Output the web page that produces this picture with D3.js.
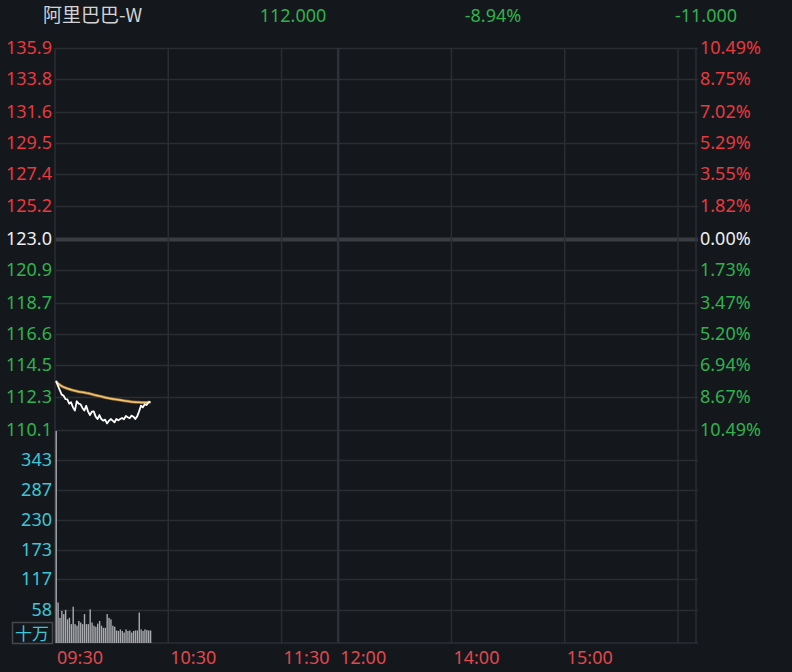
<!DOCTYPE html>
<html>
<head>
<meta charset="utf-8">
<script src="https://cdn.jsdelivr.net/npm/d3@7"></script>
<style>
html,body{margin:0;padding:0;background:#14171c;}
svg{display:block;}
text{font-family:"Noto Sans","Noto Sans CJK SC",sans-serif;}
</style>
</head>
<body>
<svg id="chart" width="792" height="672"></svg>
<script>
// ---- data ----
const title = "阿里巴巴-W";
const headerValues = ["112.000", "-8.94%", "-11.000"];
const prevClose = 123.0;
const priceTicks = [135.9, 133.8, 131.6, 129.5, 127.4, 125.2, 123.0, 120.9, 118.7, 116.6, 114.5, 112.3, 110.1];
const pctLabels = ["10.49%", "8.75%", "7.02%", "5.29%", "3.55%", "1.82%", "0.00%", "1.73%", "3.47%", "5.20%", "6.94%", "8.67%", "10.49%"];
const volTicks = [343, 287, 230, 173, 117, 58];
const volTickLabels = ["343", "287", "230", "173", "117", "58"];
const timeTicks = [0, 60, 120, 150, 210, 270];
const timeLabels = ["09:30", "10:30", "11:30", "12:00", "14:00", "15:00"];
const price = [113.43, 113.09, 112.80, 112.49, 112.42, 112.19, 112.17, 111.88, 111.97, 111.63,
               111.41, 112.04, 111.88, 111.84, 111.59, 111.41, 111.74, 111.34, 111.11, 111.34,
               111.36, 111.00, 110.84, 111.11, 110.84, 110.73, 110.80, 110.55, 110.71, 110.84,
               110.73, 110.62, 110.84, 110.75, 110.84, 110.91, 110.82, 111.05, 110.96, 110.89,
               111.07, 111.00, 110.84, 111.02, 111.36, 111.74, 111.63, 111.84, 111.79, 111.97, 112.00];
const avgPrice = [113.36, 113.25, 113.15, 113.06, 113.00, 112.95, 112.90, 112.86, 112.82, 112.78,
                  112.75, 112.72, 112.69, 112.67, 112.65, 112.63, 112.60, 112.58, 112.55, 112.52,
                  112.48, 112.45, 112.42, 112.39, 112.36, 112.33, 112.30, 112.27, 112.24, 112.22,
                  112.20, 112.18, 112.16, 112.14, 112.12, 112.10, 112.08, 112.06, 112.04, 112.02,
                  112.00, 111.99, 111.98, 111.97, 111.97, 111.96, 111.96, 111.96, 111.96, 111.97, 111.98];
const volume = [398, 73, 44, 57, 51, 59, 41, 44, 32, 65,
                32, 29, 38, 35, 32, 51, 32, 32, 60, 35,
                29, 27, 33, 38, 29, 25, 25, 51, 44, 41,
                29, 27, 20, 19, 22, 19, 16, 22, 19, 20,
                16, 19, 20, 20, 54, 22, 19, 22, 21, 20, 20];

// ---- layout ----
const L = 55, R = 696, TEnd = 678;
const pTop = 48, pBot = 430, vTop = 430, vBot = 641;
const svg = d3.select("#chart");
const gridC = "#2a2e33";
const red = "#e8393c", green = "#2fb24c", cyan = "#3cc6d6";
const fs = 18;

const x = d3.scaleLinear().domain([0, 330]).range([L, TEnd]);
const y = d3.scaleLinear().domain([priceTicks[priceTicks.length - 1], priceTicks[0]]).range([pBot, pTop]);
const yv = d3.scaleLinear().domain([0, 400]).range([vBot, vTop]);

// header
svg.append("text").attr("x", 43).attr("y", 22).attr("fill", "#d2d4d6").attr("font-size", 19)
  .style("font-family", "'Noto Sans CJK SC',sans-serif").text(title);
const hx = [293, 493, 706];
headerValues.forEach((v, i) => svg.append("text").attr("x", hx[i]).attr("y", 22)
  .attr("text-anchor", "middle").attr("fill", green).attr("font-size", fs).text(v));

// horizontal grid (price)
svg.append("g").selectAll("line").data(priceTicks).join("line")
  .attr("x1", L).attr("x2", R + 2).attr("y1", d => Math.round(y(d)) + 0.5).attr("y2", d => Math.round(y(d)) + 0.5)
  .attr("stroke", d => d === prevClose ? "#3a3d41" : gridC)
  .attr("stroke-width", d => d === prevClose ? 4 : 1.5);

// horizontal grid (volume)
svg.append("g").selectAll("line").data(volTicks).join("line")
  .attr("x1", L).attr("x2", R + 2).attr("y1", d => Math.round(yv(d)) + 0.5).attr("y2", d => Math.round(yv(d)) + 0.5)
  .attr("stroke", gridC).attr("stroke-width", 1.5);
svg.append("line").attr("x1", L).attr("x2", R + 2).attr("y1", 643).attr("y2", 643).attr("stroke", gridC).attr("stroke-width", 1.5);

// vertical grid
const vlines = [60, 120, 150, 210, 270, 330];
svg.append("g").selectAll("line").data(vlines).join("line")
  .attr("x1", d => x(d)).attr("x2", d => x(d)).attr("y1", pTop).attr("y2", 643)
  .attr("stroke", d => d === 150 ? "#2e3237" : gridC)
  .attr("stroke-width", d => d === 150 ? 2.5 : 1.5);
svg.append("line").attr("x1", R).attr("x2", R).attr("y1", pTop).attr("y2", 643).attr("stroke", gridC).attr("stroke-width", 1.5);
svg.append("line").attr("x1", L).attr("x2", L).attr("y1", pTop).attr("y2", 643).attr("stroke", gridC).attr("stroke-width", 1.5);

// left price labels
svg.append("g").selectAll("text").data(priceTicks).join("text")
  .attr("x", 52).attr("y", d => y(d) + 6).attr("text-anchor", "end").attr("font-size", fs)
  .attr("fill", d => d > prevClose ? red : d < prevClose ? green : "#eeeeee")
  .text(d => d.toFixed(1));
// right pct labels
svg.append("g").selectAll("text").data(pctLabels).join("text")
  .attr("x", 700).attr("y", (d, i) => y(priceTicks[i]) + 6).attr("font-size", fs)
  .attr("fill", (d, i) => priceTicks[i] > prevClose ? red : priceTicks[i] < prevClose ? green : "#eeeeee")
  .text(d => d);
// volume labels
svg.append("g").selectAll("text").data(volTicks).join("text")
  .attr("x", 52).attr("y", (d, i) => yv(d) + 6).attr("text-anchor", "end").attr("font-size", fs)
  .attr("fill", cyan).text((d, i) => volTickLabels[i]);
svg.append("rect").attr("x", 12.5).attr("y", 622.5).attr("width", 40).attr("height", 21)
  .attr("fill", "#14171c").attr("stroke", "#45494e").attr("stroke-width", 1.5);
svg.append("text").attr("x", 32).attr("y", 640).attr("text-anchor", "middle").attr("font-size", 17)
  .style("font-family", "'Noto Sans CJK SC',sans-serif").attr("fill", cyan).text("十万");

// time labels
svg.append("g").selectAll("text").data(timeTicks).join("text")
  .attr("x", d => x(d) + 2).attr("y", 664).attr("font-size", fs).attr("fill", "#e0484c")
  .text((d, i) => timeLabels[i]);

// volume bars
svg.append("g").selectAll("rect").data(volume).join("rect")
  .attr("x", (d, i) => x(i) + 0.5).attr("width", 1.4)
  .attr("y", d => yv(d)).attr("height", d => vBot + 2 - yv(d))
  .attr("fill", "#a9abae");

// average line
const line = d3.line().x((d, i) => x(i) + 1).y(d => y(d));
svg.append("path").datum(avgPrice).attr("d", line).attr("fill", "none")
  .attr("stroke", "#8a6a35").attr("stroke-width", 3);
svg.append("path").datum(avgPrice).attr("d", line).attr("fill", "none")
  .attr("stroke", "#f3c271").attr("stroke-width", 1.6);
// price line
svg.append("path").datum(price).attr("d", line).attr("fill", "none")
  .attr("stroke", "#ffffff").attr("stroke-width", 1.8).attr("stroke-linejoin", "round");
</script>
</body>
</html>
